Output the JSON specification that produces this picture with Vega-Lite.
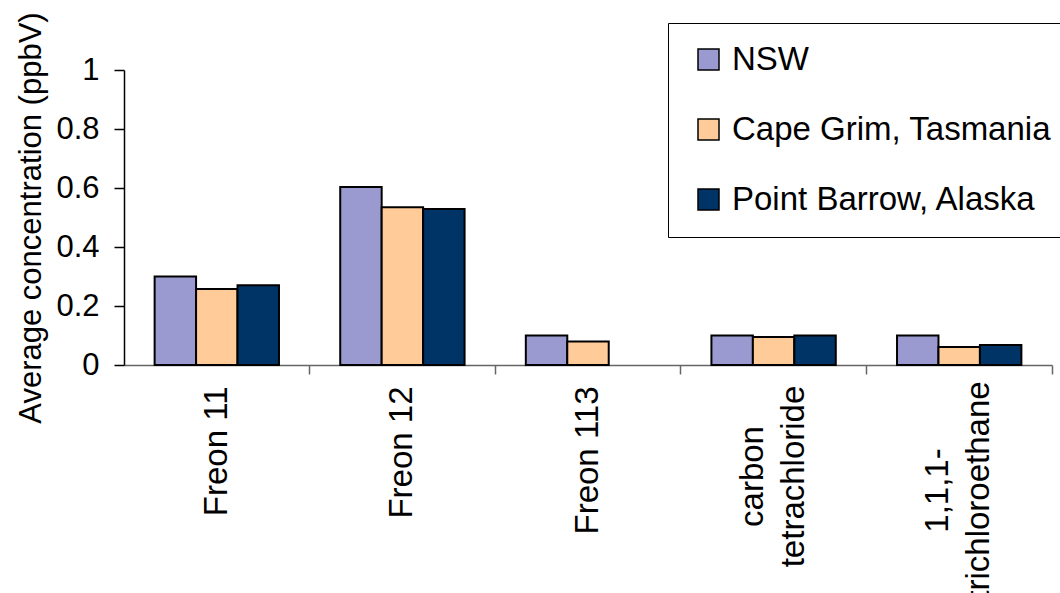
{
  "$schema": "https://vega.github.io/schema/vega-lite/v6.json",
  "width": 928,
  "height": 295,
  "autosize": {"type": "none"},
  "padding": {"left": 124, "top": 70, "right": 8, "bottom": 228},
  "background": "#ffffff",
  "config": {
    "font": "Liberation Sans",
    "view": {"stroke": null},
    "axis": {"grid": false}
  },
  "data": {
    "values": [
      {"compound": "Freon 11", "site": "NSW", "value": 0.30},
      {"compound": "Freon 11", "site": "Cape Grim, Tasmania", "value": 0.258},
      {"compound": "Freon 11", "site": "Point Barrow, Alaska", "value": 0.27},
      {"compound": "Freon 12", "site": "NSW", "value": 0.603},
      {"compound": "Freon 12", "site": "Cape Grim, Tasmania", "value": 0.535},
      {"compound": "Freon 12", "site": "Point Barrow, Alaska", "value": 0.529},
      {"compound": "Freon 113", "site": "NSW", "value": 0.10},
      {"compound": "Freon 113", "site": "Cape Grim, Tasmania", "value": 0.08},
      {"compound": "carbon tetrachloride", "site": "NSW", "value": 0.10},
      {"compound": "carbon tetrachloride", "site": "Cape Grim, Tasmania", "value": 0.095},
      {"compound": "carbon tetrachloride", "site": "Point Barrow, Alaska", "value": 0.10},
      {"compound": "1,1,1-trichloroethane", "site": "NSW", "value": 0.10},
      {"compound": "1,1,1-trichloroethane", "site": "Cape Grim, Tasmania", "value": 0.061},
      {"compound": "1,1,1-trichloroethane", "site": "Point Barrow, Alaska", "value": 0.068}
    ]
  },
  "mark": {"type": "bar", "stroke": "#000000", "strokeWidth": 2},
  "encoding": {
    "x": {
      "field": "compound",
      "type": "nominal",
      "sort": ["Freon 11", "Freon 12", "Freon 113", "carbon tetrachloride", "1,1,1-trichloroethane"],
      "scale": {"paddingInner": 0.33, "paddingOuter": 0.165},
      "axis": {
        "title": null,
        "domainColor": "#666666",
        "domainWidth": 1.5,
        "ticks": true,
        "bandPosition": 1.2467,
        "tickSize": 9,
        "tickColor": "#666666",
        "tickWidth": 1.5,
        "labelAngle": -90,
        "labelBaseline": "middle",
        "labelFontSize": 33,
        "labelColor": "#000000",
        "labelLimit": 400,
        "labelLineHeight": 41,
        "labelExpr": "datum.value == 'carbon tetrachloride' ? ['carbon', 'tetrachloride'] : datum.value == '1,1,1-trichloroethane' ? ['1,1,1-', 'trichloroethane'] : datum.value",
        "labelAlign": {
          "condition": {"test": "datum.value == 'carbon tetrachloride' || datum.value == '1,1,1-trichloroethane'", "value": "center"},
          "value": "right"
        },
        "labelOffset": {
          "condition": {"test": "datum.value == 'carbon tetrachloride' || datum.value == '1,1,1-trichloroethane'", "value": -21},
          "value": 0
        },
        "labelPadding": {
          "condition": [
            {"test": "datum.value == 'carbon tetrachloride'", "value": 102},
            {"test": "datum.value == '1,1,1-trichloroethane'", "value": 116}
          ],
          "value": 12
        }
      }
    },
    "xOffset": {
      "field": "site",
      "type": "nominal",
      "scale": {"domain": ["NSW", "Cape Grim, Tasmania", "Point Barrow, Alaska"], "paddingInner": 0, "paddingOuter": 0}
    },
    "y": {
      "field": "value",
      "type": "quantitative",
      "scale": {"domain": [0, 1]},
      "axis": {
        "title": "Average concentration (ppbV)",
        "titleFontSize": 31,
        "titleFontWeight": "normal",
        "titleColor": "#000000",
        "titlePadding": 8,
        "values": [0, 0.2, 0.4, 0.6, 0.8, 1],
        "format": "~g",
        "labelFontSize": 31,
        "labelColor": "#000000",
        "labelPadding": 15,
        "tickSize": 10,
        "tickColor": "#000000",
        "tickWidth": 1.5,
        "domainColor": "#000000",
        "domainWidth": 1.5
      }
    },
    "fill": {
      "field": "site",
      "type": "nominal",
      "scale": {
        "domain": ["NSW", "Cape Grim, Tasmania", "Point Barrow, Alaska"],
        "range": ["#9a9ad0", "#ffcc99", "#003366"]
      },
      "legend": {
        "title": null,
        "orient": "none",
        "legendX": 544,
        "legendY": -47,
        "symbolType": "square",
        "symbolSize": 441,
        "symbolStrokeColor": "#000000",
        "symbolStrokeWidth": 1.5,
        "symbolOpacity": 1,
        "labelFontSize": 33,
        "labelColor": "#000000",
        "labelLimit": 500,
        "padding": 20,
        "rowPadding": 36,
        "symbolOffset": 4,
        "labelOffset": 7,
        "strokeColor": "#000000",
        "fillColor": "#ffffff"
      }
    }
  }
}
